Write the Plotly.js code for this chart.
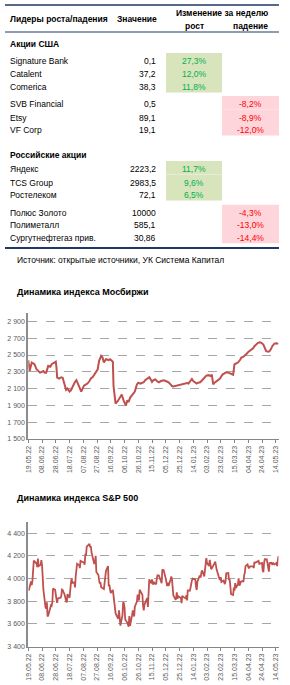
<!DOCTYPE html>
<html><head><meta charset="utf-8">
<script src="https://cdn.plot.ly/plotly-3.0.1.min.js"></script>
<style>html,body{margin:0;padding:0;background:#fff;}#chart{width:290px;height:685px;}</style>
</head><body><div id="chart"></div>
<script>
// ---------------- DATA ----------------
const sectionTitles = ['Акции США', 'Российские акции'];
const stockNames = ['Signature Bank', 'Catalent', 'Comerica', 'SVB Financial', 'Etsy', 'VF Corp',
  'Яндекс', 'TCS Group', 'Ростелеком', 'Полюс Золото', 'Полиметалл', 'Сургутнефтегаз прив.'];
const stockValues = ['0,1', '37,2', '38,3', '0,5', '89,1', '19,1', '2223,2', '2983,5', '72,1', '10000', '585,1', '30,86'];
const weeklyChange = [27.3, 12.0, 11.8, -8.2, -8.9, -12.0, 11.7, 9.6, 6.5, -4.3, -13.0, -14.4];

const moexDates = ['2022-05-19','2022-05-21','2022-05-24','2022-05-26','2022-05-28','2022-05-31','2022-06-03','2022-06-05','2022-06-08','2022-06-10','2022-06-12','2022-06-14','2022-06-17','2022-06-20','2022-06-22','2022-06-24','2022-06-26','2022-06-28','2022-06-29','2022-06-30','2022-07-03','2022-07-06','2022-07-08','2022-07-11','2022-07-13','2022-07-15','2022-07-18','2022-07-20','2022-07-23','2022-07-26','2022-07-28','2022-07-30','2022-08-02','2022-08-04','2022-08-06','2022-08-08','2022-08-11','2022-08-13','2022-08-16','2022-08-18','2022-08-21','2022-08-23','2022-08-26','2022-08-28','2022-08-30','2022-09-02','2022-09-04','2022-09-06','2022-09-09','2022-09-11','2022-09-13','2022-09-15','2022-09-17','2022-09-19','2022-09-20','2022-09-22','2022-09-23','2022-09-26','2022-09-28','2022-09-30','2022-10-02','2022-10-05','2022-10-08','2022-10-10','2022-10-12','2022-10-14','2022-10-17','2022-10-19','2022-10-21','2022-10-24','2022-10-26','2022-10-29','2022-11-01','2022-11-03','2022-11-05','2022-11-08','2022-11-11','2022-11-13','2022-11-15','2022-11-17','2022-11-20','2022-11-22','2022-11-25','2022-11-28','2022-12-02','2022-12-05','2022-12-09','2022-12-12','2022-12-14','2022-12-16','2022-12-19','2022-12-22','2022-12-26','2022-12-29','2023-01-02','2023-01-05','2023-01-07','2023-01-10','2023-01-12','2023-01-14','2023-01-16','2023-01-19','2023-01-21','2023-01-24','2023-01-27','2023-01-29','2023-02-02','2023-02-05','2023-02-08','2023-02-10','2023-02-12','2023-02-14','2023-02-17','2023-02-20','2023-02-22','2023-02-24','2023-02-26','2023-03-01','2023-03-03','2023-03-06','2023-03-08','2023-03-11','2023-03-13','2023-03-15','2023-03-17','2023-03-20','2023-03-23','2023-03-25','2023-03-28','2023-03-30','2023-04-01','2023-04-04','2023-04-06','2023-04-08','2023-04-11','2023-04-13','2023-04-15','2023-04-18','2023-04-21','2023-04-23','2023-04-26','2023-04-28','2023-04-30','2023-05-03','2023-05-05','2023-05-07','2023-05-09','2023-05-12','2023-05-15','2023-05-18'];
const moexValues = [2437,2310,2410,2400,2390,2330,2300,2290,2300,2310,2290,2290,2370,2360,2390,2400,2410,2420,2350,2230,2220,2235,2230,2130,2085,2100,2065,2080,2140,2180,2200,2160,2120,2065,2100,2135,2150,2160,2190,2220,2240,2270,2300,2330,2430,2490,2470,2410,2450,2440,2440,2450,2440,2420,2130,2020,1920,1950,1980,2000,2030,1950,1900,1960,1940,1990,2020,2040,2065,2150,2170,2160,2170,2175,2200,2220,2235,2210,2180,2200,2210,2190,2175,2190,2200,2190,2175,2150,2130,2125,2130,2140,2150,2155,2160,2165,2160,2190,2215,2190,2175,2160,2170,2175,2200,2215,2255,2260,2250,2265,2150,2170,2190,2210,2220,2250,2270,2285,2295,2290,2280,2270,2265,2390,2400,2410,2440,2470,2480,2490,2510,2535,2545,2555,2580,2605,2625,2645,2650,2645,2625,2580,2545,2540,2545,2570,2605,2635,2640,2635];

const spDates = ['2022-05-19','2022-05-20','2022-05-23','2022-05-24','2022-05-25','2022-05-26','2022-05-27','2022-05-31','2022-06-01','2022-06-02','2022-06-03','2022-06-06','2022-06-07','2022-06-08','2022-06-09','2022-06-10','2022-06-13','2022-06-14','2022-06-15','2022-06-16','2022-06-17','2022-06-21','2022-06-22','2022-06-23','2022-06-24','2022-06-27','2022-06-28','2022-06-29','2022-06-30','2022-07-01','2022-07-05','2022-07-06','2022-07-07','2022-07-08','2022-07-11','2022-07-12','2022-07-13','2022-07-14','2022-07-15','2022-07-18','2022-07-19','2022-07-20','2022-07-21','2022-07-22','2022-07-25','2022-07-26','2022-07-27','2022-07-28','2022-07-29','2022-08-01','2022-08-02','2022-08-03','2022-08-04','2022-08-05','2022-08-08','2022-08-09','2022-08-10','2022-08-11','2022-08-12','2022-08-15','2022-08-16','2022-08-17','2022-08-18','2022-08-19','2022-08-22','2022-08-23','2022-08-24','2022-08-25','2022-08-26','2022-08-29','2022-08-30','2022-08-31','2022-09-01','2022-09-02','2022-09-06','2022-09-07','2022-09-08','2022-09-09','2022-09-12','2022-09-13','2022-09-14','2022-09-15','2022-09-16','2022-09-19','2022-09-20','2022-09-21','2022-09-22','2022-09-23','2022-09-26','2022-09-27','2022-09-28','2022-09-29','2022-09-30','2022-10-03','2022-10-04','2022-10-05','2022-10-06','2022-10-07','2022-10-10','2022-10-11','2022-10-12','2022-10-13','2022-10-14','2022-10-17','2022-10-18','2022-10-19','2022-10-20','2022-10-21','2022-10-24','2022-10-25','2022-10-26','2022-10-27','2022-10-28','2022-10-31','2022-11-01','2022-11-02','2022-11-03','2022-11-04','2022-11-07','2022-11-08','2022-11-09','2022-11-10','2022-11-11','2022-11-14','2022-11-15','2022-11-16','2022-11-17','2022-11-18','2022-11-21','2022-11-22','2022-11-23','2022-11-25','2022-11-28','2022-11-29','2022-11-30','2022-12-01','2022-12-02','2022-12-05','2022-12-06','2022-12-07','2022-12-08','2022-12-09','2022-12-12','2022-12-13','2022-12-14','2022-12-15','2022-12-16','2022-12-19','2022-12-20','2022-12-21','2022-12-22','2022-12-23','2022-12-27','2022-12-28','2022-12-29','2022-12-30','2023-01-03','2023-01-04','2023-01-05','2023-01-06','2023-01-09','2023-01-10','2023-01-11','2023-01-12','2023-01-13','2023-01-17','2023-01-18','2023-01-19','2023-01-20','2023-01-23','2023-01-24','2023-01-25','2023-01-26','2023-01-27','2023-01-30','2023-01-31','2023-02-01','2023-02-02','2023-02-03','2023-02-06','2023-02-07','2023-02-08','2023-02-09','2023-02-10','2023-02-13','2023-02-14','2023-02-15','2023-02-16','2023-02-17','2023-02-21','2023-02-22','2023-02-23','2023-02-24','2023-02-27','2023-02-28','2023-03-01','2023-03-02','2023-03-03','2023-03-06','2023-03-07','2023-03-08','2023-03-09','2023-03-10','2023-03-13','2023-03-14','2023-03-15','2023-03-16','2023-03-17','2023-03-20','2023-03-21','2023-03-22','2023-03-23','2023-03-24','2023-03-27','2023-03-28','2023-03-29','2023-03-30','2023-03-31','2023-04-03','2023-04-04','2023-04-05','2023-04-06','2023-04-10','2023-04-11','2023-04-12','2023-04-13','2023-04-14','2023-04-17','2023-04-18','2023-04-19','2023-04-20','2023-04-21','2023-04-24','2023-04-25','2023-04-26','2023-04-27','2023-04-28','2023-05-01','2023-05-02','2023-05-03','2023-05-04','2023-05-05','2023-05-08','2023-05-09','2023-05-10','2023-05-11','2023-05-12','2023-05-15','2023-05-16','2023-05-17','2023-05-18'];
const spValues = [3901,3901,3974,3941,3979,4058,4158,4132,4101,4176,4109,4121,4161,4116,4018,3901,3750,3735,3790,3667,3675,3765,3760,3796,3912,3900,3821,3819,3785,3825,3831,3845,3903,3899,3855,3819,3802,3790,3863,3831,3937,3960,3999,3962,3967,3921,4024,4073,4130,4119,4091,4155,4152,4145,4140,4122,4210,4208,4280,4297,4305,4275,4284,4228,4138,4128,4141,4200,4058,4031,3986,3955,3967,3924,3908,3980,4006,4067,4110,3932,3946,3901,3873,3900,3856,3790,3758,3693,3655,3647,3719,3641,3586,3678,3791,3783,3745,3640,3612,3589,3577,3670,3583,3677,3720,3695,3666,3752,3798,3859,3831,3807,3901,3872,3856,3760,3720,3771,3807,3828,3749,3956,3993,3957,3992,3959,3947,3965,3950,4003,4028,4026,3964,3958,4080,4076,4072,3999,3941,3933,3964,3934,3991,4019,3996,3896,3852,3818,3821,3879,3822,3845,3829,3783,3849,3840,3825,3853,3808,3895,3893,3919,3970,3983,3999,3991,3929,3899,3973,4020,4017,4016,4060,4071,4018,4077,4119,4180,4136,4111,4164,4118,4082,4090,4137,4136,4148,4090,4079,3997,3991,4012,3970,3982,3970,3951,3982,4045,4048,3986,3992,3918,3862,3855,3920,3892,3960,3917,3951,4002,3937,3948,3971,3977,3971,4028,4051,4109,4125,4101,4090,4105,4109,4109,4092,4146,4138,4151,4154,4155,4130,4133,4138,4071,4056,4136,4169,4168,4120,4091,4061,4136,4138,4119,4138,4131,4124,4136,4110,4158,4198];

const tableHeaders = ['Лидеры роста/падения', 'Значение', 'Изменение за неделю', 'рост', 'падение'];
const sourceText = 'Источник: открытые источники, УК Система Капитал';
const chartTitles = ['Динамика индекса Мосбиржи', 'Динамика индекса S&P 500'];

// ---------------- LAYOUT / STYLE CONSTANTS ----------------
const W = 290, H = 685, TABLE_H = 270;
const FONT = 'Liberation Sans, Arial, sans-serif';
const ROW_Y = [61, 74, 87, 104, 117.5, 130, 169, 182.7, 195, 212.7, 225, 237.7];
const SECTION_Y = [44, 155];
const COL = {name: 8, value: 158, upL: 166, upR: 222, downL: 222, downR: 279};
const GREEN_FILL = '#d8e4bc', RED_FILL = '#fdd5db', GREEN_TXT = '#00b050', RED_TXT = '#ff0000';
const BLUE = '#1f3864';
const LINE_COLOR = '#c0504d';
const XDOM = [28.3 / W, 278.5 / W];
const py = v => 1 - v / H; // page pixel (from top) -> paper fraction

const fmtPct = v => v.toFixed(1).replace('.', ',') + '%';

const annotations = [];
const shapes = [];
const txt = (x, y, text, anchor, opts = {}) => annotations.push(Object.assign({
  xref: 'x3', yref: 'y3', x, y, text, showarrow: false, xanchor: anchor, yanchor: 'middle',
  font: {family: FONT, size: 8.5, color: '#000'}
}, opts));

// headers
const bold = s => '<b>' + s + '</b>';
txt(COL.name, 19, bold(tableHeaders[0]), 'left');
txt(137, 19, bold(tableHeaders[1]), 'center');
txt(222, 13, bold(tableHeaders[2]), 'center');
txt((COL.upL + COL.upR) / 2, 26, bold(tableHeaders[3]), 'center');
txt((COL.downL + COL.downR) / 2, 26, bold(tableHeaders[4]), 'center');
sectionTitles.forEach((s, i) => txt(COL.name, SECTION_Y[i], bold(s), 'left'));

stockNames.forEach((n, i) => {
  const y = ROW_Y[i];
  txt(COL.name, y, n, 'left');
  txt(COL.value, y, stockValues[i], 'right');
  const up = weeklyChange[i] >= 0;
  const x0 = up ? COL.upL : COL.downL, x1 = up ? COL.upR : COL.downR;
  shapes.push({type: 'rect', xref: 'x3', yref: 'y3', x0, x1, y0: y - 8, y1: y + 5.5,
    fillcolor: up ? GREEN_FILL : RED_FILL, line: {width: 0}, layer: 'below'});
  txt((x0 + x1) / 2, y, fmtPct(weeklyChange[i]), 'center', {font: {family: FONT, size: 8.5, color: up ? GREEN_TXT : RED_TXT}});
});
txt(15, 260, sourceText, 'left');

// table rules
[[5, 1.5], [32, 1], [248, 2]].forEach(([y, w]) => shapes.push({type: 'line', xref: 'x3', yref: 'y3',
  x0: 5, x1: 279, y0: y, y1: y, line: {color: BLUE, width: w}}));

// chart titles
[[292, chartTitles[0]], [498, chartTitles[1]]].forEach(([y, t]) => annotations.push({
  xref: 'paper', yref: 'paper', x: 15 / W, y: py(y), xanchor: 'left', yanchor: 'middle', showarrow: false,
  text: bold(t), font: {family: FONT, size: 9, color: '#000'}
}));

const dateAxis = (anchor) => ({
  type: 'date', domain: XDOM, anchor, range: ['2022-05-19', '2023-05-18'],
  tick0: '2022-05-19', dtick: 20 * 86400000, tickformat: '%d.%m.%y', tickangle: -90,
  ticks: 'outside', ticklen: 3, tickcolor: '#868686', tickwidth: 1,
  showline: true, linecolor: '#868686', linewidth: 1, showgrid: false, zeroline: false,
  tickfont: {family: FONT, size: 7, color: '#595959'}, fixedrange: true
});
const valAxis = (anchor, dom, range, t0) => ({
  domain: dom, anchor, range, tick0: t0, dtick: 200, tickformat: ',d',
  showgrid: true, gridcolor: '#a6a6a6', griddash: 'dash', gridwidth: 1,
  showline: true, linecolor: '#8c8c8c', linewidth: 2, ticks: '', zeroline: false,
  tickfont: {family: FONT, size: 7, color: '#595959'}, fixedrange: true
});

const traces = [
  {x: moexDates, y: moexValues, xaxis: 'x', yaxis: 'y', type: 'scatter', mode: 'lines',
   line: {color: LINE_COLOR, width: 2}, hoverinfo: 'skip'},
  {x: spDates, y: spValues, xaxis: 'x2', yaxis: 'y2', type: 'scatter', mode: 'lines',
   line: {color: LINE_COLOR, width: 1.8}, hoverinfo: 'skip'}
];

const layout = {
  width: W, height: H, margin: {l: 0, r: 0, t: 0, b: 0}, autosize: false,
  paper_bgcolor: '#fff', plot_bgcolor: 'rgba(0,0,0,0)', showlegend: false,
  separators: ', ',
  font: {family: FONT},
  xaxis: dateAxis('y'),
  yaxis: valAxis('x', [py(439), py(313)], [1500, 3000], 1500),
  xaxis2: dateAxis('y2'),
  yaxis2: valAxis('x2', [py(646.7), py(521.7)], [3400, 4500], 3400),
  xaxis3: {domain: [0, 1], anchor: 'y3', range: [0, W], visible: false, fixedrange: true},
  yaxis3: {domain: [1 - TABLE_H / H, 1], anchor: 'x3', range: [TABLE_H, 0], visible: false, fixedrange: true},
  annotations, shapes
};

Plotly.newPlot('chart', traces, layout, {displayModeBar: false, staticPlot: true});
</script>
</body></html>
